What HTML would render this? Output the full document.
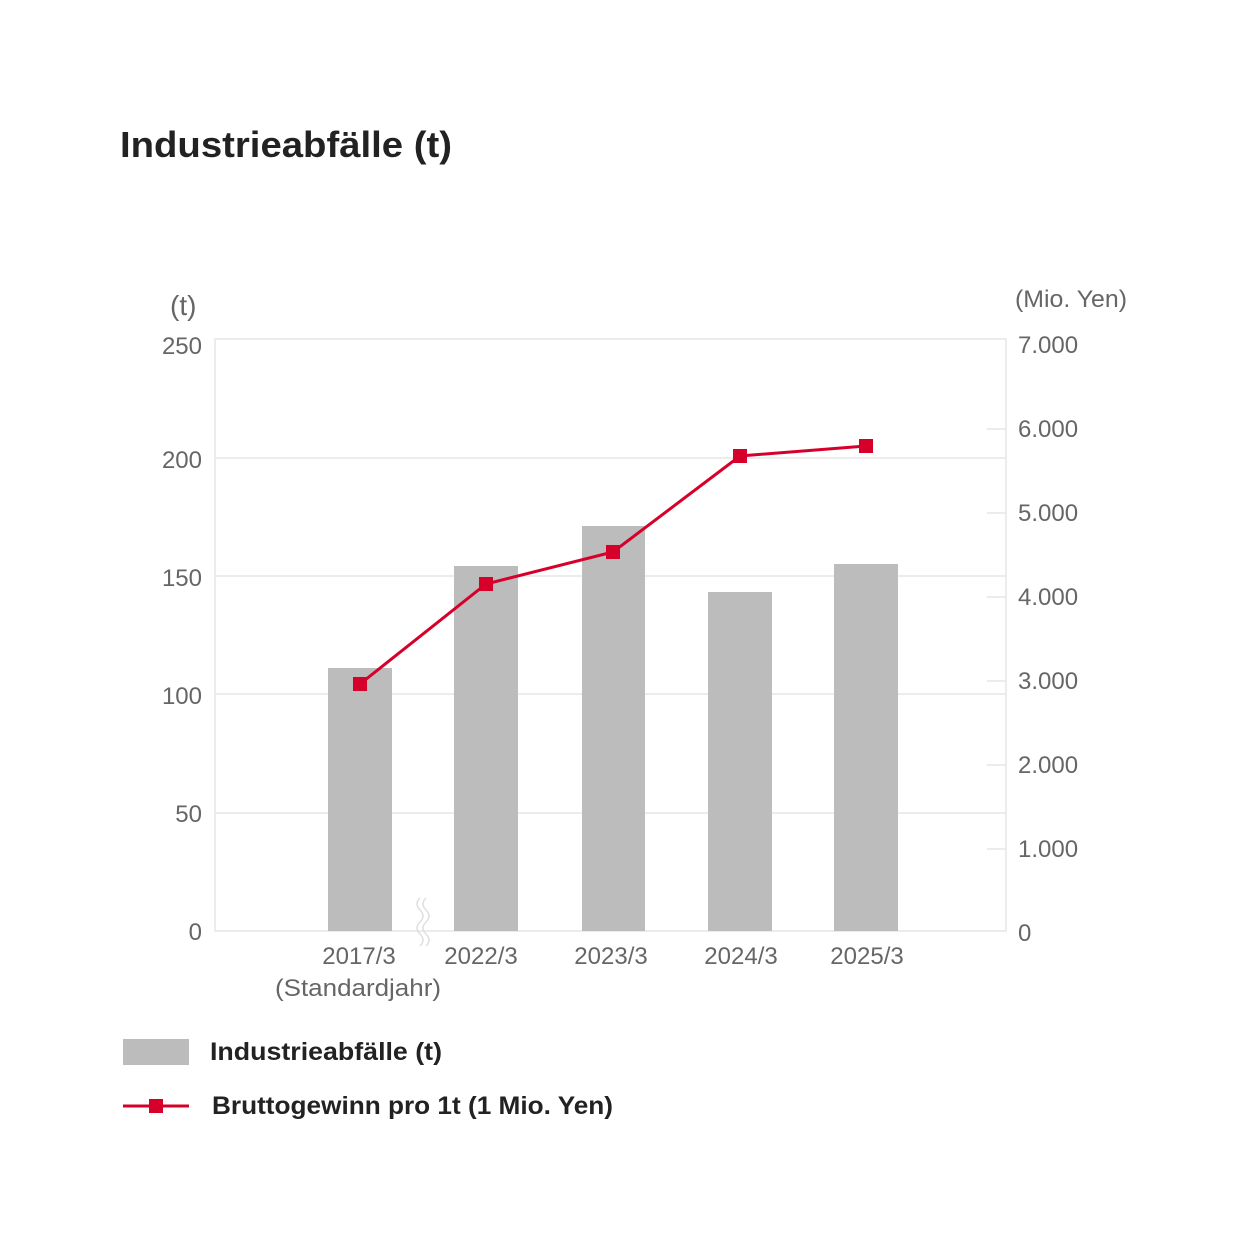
<!DOCTYPE html>
<html><head><meta charset="utf-8"><style>
body{margin:0;background:#fff;}
svg{display:block;}
text{font-family:"Liberation Sans",sans-serif;}
</style></head><body>
<svg width="1240" height="1241" viewBox="0 0 1240 1241" xmlns="http://www.w3.org/2000/svg">
<text x="120" y="157" font-size="36" font-weight="bold" fill="#222" textLength="332" lengthAdjust="spacingAndGlyphs">Industrieabfälle (t)</text>
<g stroke="#e6e6e6" stroke-width="1.5" fill="none">
<rect x="215" y="339" width="791" height="592"/>
<line x1="215" y1="458" x2="1006" y2="458"/>
<line x1="215" y1="576" x2="1006" y2="576"/>
<line x1="215" y1="694" x2="1006" y2="694"/>
<line x1="215" y1="813" x2="1006" y2="813"/>
<line x1="987" y1="429" x2="1006" y2="429"/>
<line x1="987" y1="513" x2="1006" y2="513"/>
<line x1="987" y1="597" x2="1006" y2="597"/>
<line x1="987" y1="681" x2="1006" y2="681"/>
<line x1="987" y1="765" x2="1006" y2="765"/>
<line x1="987" y1="849" x2="1006" y2="849"/>
</g>
<g fill="#bcbcbc">
<rect x="328" y="668" width="64" height="263"/>
<rect x="454" y="566" width="64" height="365"/>
<rect x="582" y="526" width="63" height="405"/>
<rect x="708" y="592" width="64" height="339"/>
<rect x="834" y="564" width="64" height="367"/>
</g>
<g stroke="#e0e0e0" stroke-width="1.5" fill="none">
<path d="M420 898 q-6 6 0 12 q6 6 0 12 q-6 6 0 12 q6 6 0 12"/>
<path d="M426 898 q-6 6 0 12 q6 6 0 12 q-6 6 0 12 q6 6 0 12"/>
</g>
<polyline points="360,684 486,584 613,552 740,456 866,446" fill="none" stroke="#d6002a" stroke-width="3"/>
<g fill="#d6002a">
<rect x="353" y="677" width="14" height="14"/>
<rect x="479" y="577" width="14" height="14"/>
<rect x="606" y="545" width="14" height="14"/>
<rect x="733" y="449" width="14" height="14"/>
<rect x="859" y="439" width="14" height="14"/>
</g>
<g font-size="24" fill="#666">
<text x="170" y="315" font-size="28">(t)</text>
<g text-anchor="end">
<text x="202" y="354">250</text>
<text x="202" y="468">200</text>
<text x="202" y="586">150</text>
<text x="202" y="704">100</text>
<text x="202" y="822">50</text>
<text x="202" y="940">0</text>
</g>
<text x="1015" y="307" textLength="112" lengthAdjust="spacingAndGlyphs">(Mio. Yen)</text>
<text x="1018" y="353">7.000</text>
<text x="1018" y="437">6.000</text>
<text x="1018" y="521">5.000</text>
<text x="1018" y="605">4.000</text>
<text x="1018" y="689">3.000</text>
<text x="1018" y="773">2.000</text>
<text x="1018" y="857">1.000</text>
<text x="1018" y="941">0</text>
<g text-anchor="middle">
<text x="359" y="964">2017/3</text>
<text x="358" y="996" textLength="166" lengthAdjust="spacingAndGlyphs">(Standardjahr)</text>
<text x="481" y="964">2022/3</text>
<text x="611" y="964">2023/3</text>
<text x="741" y="964">2024/3</text>
<text x="867" y="964">2025/3</text>
</g>
</g>
<rect x="123" y="1039" width="66" height="26" fill="#bcbcbc"/>
<text x="210" y="1060" font-size="25" font-weight="bold" fill="#222" textLength="232" lengthAdjust="spacingAndGlyphs">Industrieabfälle (t)</text>
<line x1="123" y1="1106" x2="189" y2="1106" stroke="#d6002a" stroke-width="3"/>
<rect x="149" y="1099" width="14" height="14" fill="#d6002a"/>
<text x="212" y="1114" font-size="25" font-weight="bold" fill="#222" textLength="401" lengthAdjust="spacingAndGlyphs">Bruttogewinn pro 1t (1 Mio. Yen)</text>
</svg>
</body></html>
